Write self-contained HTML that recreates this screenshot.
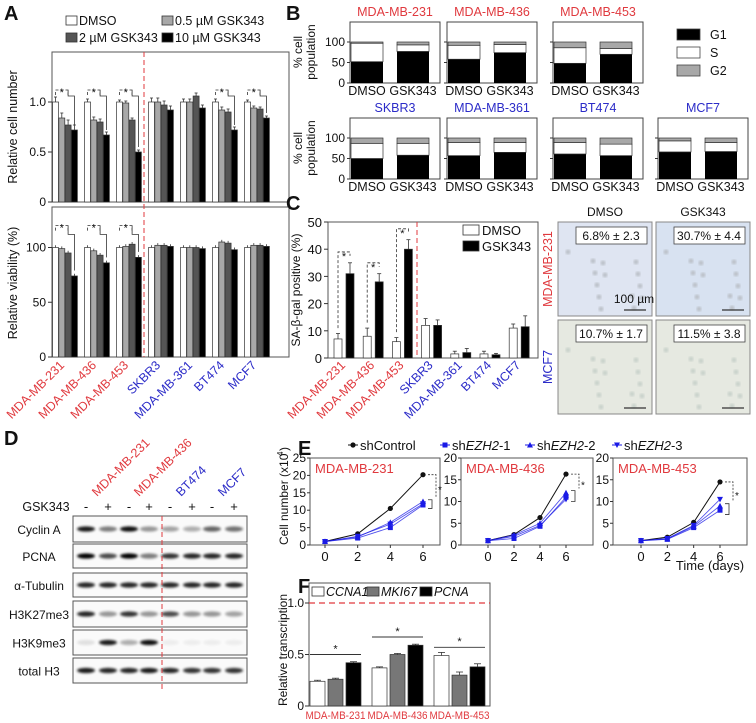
<!DOCTYPE html>
<html><head><meta charset="utf-8"><style>
html,body{margin:0;padding:0;background:#fff}
svg{display:block;font-family:"Liberation Sans",Arial,sans-serif}
</style></head><body>
<svg id="fig" width="756" height="723" viewBox="0 0 756 723" xmlns="http://www.w3.org/2000/svg">
<defs>
<filter id="blur" x="-50%" y="-200%" width="200%" height="500%"><feGaussianBlur stdDeviation="1.3"/></filter>
<filter id="blur2"><feGaussianBlur stdDeviation="1"/></filter>
</defs>
</svg>
<script>
// ---------- Panel A data ----------
const aLines = ['MDA-MB-231','MDA-MB-436','MDA-MB-453','SKBR3','MDA-MB-361','BT474','MCF7'];
const aSeries = ['DMSO','0.5 µM GSK343','2 µM GSK343','10 µM GSK343'];
const aCellDMSO = [1,1,1,1,1,1,1];
const aCell05 = [0.84,0.82,0.99,1.0,1.0,0.92,0.94];
const aCell2 = [0.77,0.80,0.82,0.97,1.06,0.90,0.93];
const aCell10 = [0.72,0.67,0.50,0.92,0.94,0.72,0.84];
const aCellErr = [0.05,0.03,0.02,0.04,0.03,0.03,0.02];
const aViaDMSO = [100,100,100,100,100,100,100];
const aVia05 = [99,97,101,102,100,105,102];
const aVia2 = [95,93,103,102,100,104,102];
const aVia10 = [74,86,91,101,99,98,101];
const aCellTicks = [0,0.5,1.0];
const aCellTickLabels = ['0','0.5','1.0'];
const aViaTicks = [0,50,100];
// ---------- Panel B data ----------
const bLines = ['MDA-MB-231','MDA-MB-436','MDA-MB-453','SKBR3','MDA-MB-361','BT474','MCF7'];
const bG1Dmso = [52,58,48,50,57,61,66];
const bSDmso = [45,34,38,37,32,28,27];
const bG1Gsk = [77,74,70,58,65,57,67];
const bSGsk = [16,20,14,29,24,28,22];
const bTicks = [0,50,100];
// ---------- Panel C data ----------
const cLines = ['MDA-MB-231','MDA-MB-436','MDA-MB-453','SKBR3','MDA-MB-361','BT474','MCF7'];
const cDmso = [7,8,6,12,1.5,1.5,11];
const cDmsoErr = [2,3,1.5,2.5,1,1,1.5];
const cGsk = [31,28,40,12,2,1.2,11.5];
const cGskErr = [4,3,3.5,2,1.5,0.5,4];
const cTicks = [0,10,20,30,40,50];
// ---------- Panel D data ----------
const dProteins = ['Cyclin A','PCNA','α-Tubulin','H3K27me3','H3K9me3','total H3'];
const dCyclinA = [0.9,0.5,0.95,0.4,0.35,0.3,0.6,0.55];
const dPCNA = [1,0.7,1,0.5,0.8,0.85,0.85,0.85];
const dTubulin = [0.85,0.85,0.85,0.85,0.85,0.85,0.85,0.85];
const dH3K27 = [0.85,0.4,0.8,0.4,0.7,0.4,0.4,0.35];
const dH3K9 = [0.1,0.9,0.3,0.95,0.05,0.05,0.05,0.05];
const dH3 = [0.9,0.85,0.85,0.9,0.85,0.8,0.8,0.8];
const dTreat = ['-','+','-','+','-','+','-','+'];
// ---------- Panel E data ----------
const eTimes = [0,2,4,6];
const eNames = ['MDA-MB-231','MDA-MB-436','MDA-MB-453'];
const eMax = [25,20,20];
const eCtrl = [[1,3.2,10.5,20.2],[1,2.4,6.3,16.3],[1,1.8,5.2,14.5]];
const eSh1 = [[1,2,5,11.5],[1,1.5,4.3,11],[1,1.3,4,8]];
const eSh2 = [[1,2.3,6.5,12.5],[1,2.3,5,12],[1,1.4,4.3,9]];
const eSh3 = [[1,2.5,6,11.8],[1,2,4.5,10.5],[1,1.5,4.5,10.5]];
// ---------- Panel F data ----------
const fLines = ['MDA-MB-231','MDA-MB-436','MDA-MB-453'];
const fCCNA1 = [0.24,0.37,0.49];
const fMKI67 = [0.26,0.50,0.30];
const fPCNA = [0.42,0.59,0.38];
const fErr = [0.01,0.01,0.03];
const fTicks = [0,0.5,1.0];
const fTickLabels = ['0','0.5','1.0'];

const NS='http://www.w3.org/2000/svg';
const svg=document.getElementById('fig');
const RED='#e0393e', BLUE='#2b2bc8';
function mk(tag,a,p){const e=document.createElementNS(NS,tag);for(const k in a)e.setAttribute(k,a[k]);(p||svg).appendChild(e);return e;}
function tx(s,x,y,a,p){const e=mk('text',Object.assign({x:x,y:y,'font-size':12,fill:'#111'},a||{}),p);e.textContent=s;return e;}
function ln(x1,y1,x2,y2,a){return mk('line',Object.assign({x1,y1,x2,y2,stroke:'#333','stroke-width':1},a||{}));}
function lineColor(i){return i<3?RED:BLUE;}

// ================= Panel A =================
let t=tx('A',4,20,{'font-size':20,'font-weight':'bold'});


const aFills=['#fff','#a8a8a8','#555','#000'];
const aLeg=[[66,25],[162,25],[66,42],[162,42]];
aSeries.forEach((s,i)=>{
  const g=mk('g',{});
  
  
  mk('rect',{x:aLeg[i][0],y:aLeg[i][1]-9,width:11,height:9,fill:aFills[i],stroke:'#333','stroke-width':0.8},g);
  tx(s,aLeg[i][0]+13,aLeg[i][1],{'font-size':12.5},g);
});
function xA(g,s){return 52.5+g*32+s*6.3;}
function yAc(v){return 202-v*100;}
function yAv(v){return 357-v*1.095;}
let b=mk('rect',{x:52,y:52,width:237,height:150,fill:'none',stroke:'#555','stroke-width':1});


b=mk('rect',{x:52,y:207,width:237,height:150,fill:'none',stroke:'#555','stroke-width':1});


aCellTicks.forEach((v,i)=>{ln(48,yAc(v),52,yAc(v));tx(aCellTickLabels[i],46,yAc(v)+4,{'text-anchor':'end'});});
aViaTicks.forEach(v=>{ln(48,yAv(v),52,yAv(v));tx(String(v),46,yAv(v)+4,{'text-anchor':'end'});});
t=tx('Relative cell number',17,127,{'text-anchor':'middle',transform:'rotate(-90 17 127)','font-size':12.5});


t=tx('Relative viability (%)',17,283,{'text-anchor':'middle',transform:'rotate(-90 17 283)','font-size':12.5});


const aCellS=[aCellDMSO,aCell05,aCell2,aCell10];
const aViaS=[aViaDMSO,aVia05,aVia2,aVia10];
aLines.forEach((name,g)=>{
  for(let s=0;s<4;s++){
    const v=aCellS[s][g];
    const r=mk('rect',{x:xA(g,s),y:yAc(v),width:6,height:yAc(0)-yAc(v),fill:aFills[s],stroke:'#333','stroke-width':0.7});
    
    
    ln(xA(g,s)+3,yAc(v),xA(g,s)+3,yAc(v+aCellErr[g]),{'stroke-width':0.8});
    ln(xA(g,s)+1.5,yAc(v+aCellErr[g]),xA(g,s)+4.5,yAc(v+aCellErr[g]),{'stroke-width':0.8});
    const w=aViaS[s][g];
    const r2=mk('rect',{x:xA(g,s),y:yAv(w),width:6,height:yAv(0)-yAv(w),fill:aFills[s],stroke:'#333','stroke-width':0.7});
    
    
    ln(xA(g,s)+3,yAv(w),xA(g,s)+3,yAv(w+2),{'stroke-width':0.8});
  }
  const cx=xA(g,2);
  const lab=tx(name,cx,366,{'text-anchor':'end',fill:lineColor(g),transform:'rotate(-45 '+cx+' 366)','font-size':12.5});
  
  
});
[0,1,2,5,6].forEach(g=>{
  const y0=yAc(1.12);
  mk('path',{d:`M${xA(g,0)+3} ${y0+5}V${y0}H${xA(g,2)+3}V${y0+5}`,fill:'none',stroke:'#333','stroke-width':0.8,'stroke-dasharray':'3 2'});
  tx('*',xA(g,1)+3,y0+6,{'font-size':11,'text-anchor':'middle'});
  mk('path',{d:`M${xA(g,2)+3} ${y0}V${yAc(1.06)}H${xA(g,3)+3}V${yAc(aCell10[g]+0.05)}`,fill:'none',stroke:'#333','stroke-width':0.8});
});
[0,1,2].forEach(g=>{
  const y0=yAv(120);
  mk('path',{d:`M${xA(g,0)+3} ${y0+5}V${y0}H${xA(g,2)+3}V${y0+5}`,fill:'none',stroke:'#333','stroke-width':0.8,'stroke-dasharray':'3 2'});
  tx('*',xA(g,1)+3,y0+6,{'font-size':11,'text-anchor':'middle'});
  mk('path',{d:`M${xA(g,2)+3} ${y0}V${yAv(112)}H${xA(g,3)+3}V${yAv(aVia10[g]+5)}`,fill:'none',stroke:'#333','stroke-width':0.8});
});
let dl=ln(144,52,144,357,{stroke:RED,'stroke-dasharray':'5 3','stroke-width':1});



// ================= Panel B =================
t=tx('B',286,20,{'font-size':20,'font-weight':'bold'});


const bBoxX=[350,447,553,350,447,553,658];
const bBase=[83,83,83,179,179,179,179];
bLines.forEach((name,i)=>{
  const x0=bBoxX[i], base=bBase[i];
  const yB=v=>base-v*0.41;
  const fr=mk('rect',{x:x0,y:base-61,width:90,height:61,fill:'none',stroke:'#444','stroke-width':1});
  
  
  const ti=tx(name,x0+45,base-67,{'text-anchor':'middle',fill:lineColor(i),'font-size':12.5});
  
  
  bTicks.forEach(v=>{ln(x0-3,yB(v),x0,yB(v));if(i===0||i===3)tx(String(v),x0-5,yB(v)+4,{'text-anchor':'end'});});
  [[bG1Dmso[i],bSDmso[i],1,'DMSO'],[bG1Gsk[i],bSGsk[i],47,'GSK343']].forEach(([g1,s,off,lbl])=>{
    const g2=100-g1-s;
    const r1=mk('rect',{x:x0+off,y:yB(g1),width:32,height:g1*0.41,fill:'#000'});
    
    
    const r2=mk('rect',{x:x0+off,y:yB(g1+s),width:32,height:s*0.41,fill:'#fff',stroke:'#333','stroke-width':0.7});
    
    
    const r3=mk('rect',{x:x0+off,y:yB(100),width:32,height:g2*0.41,fill:'#a8a8a8',stroke:'#333','stroke-width':0.7});
    
    
    tx(lbl,x0+off+16,base+12,{'text-anchor':'middle','font-size':12.5});
  });
});
tx('% cell',302,52,{'text-anchor':'middle',transform:'rotate(-90 302 52)','font-size':12});
tx('population',315,52,{'text-anchor':'middle',transform:'rotate(-90 315 52)','font-size':12});
tx('% cell',302,148,{'text-anchor':'middle',transform:'rotate(-90 302 148)','font-size':12});
tx('population',315,148,{'text-anchor':'middle',transform:'rotate(-90 315 148)','font-size':12});
[['G1','#000',38],['S','#fff',56],['G2','#a8a8a8',74]].forEach(([n,c,y])=>{
  const g=mk('g',{});
  
  
  mk('rect',{x:677,y:y-9,width:23,height:11,fill:c,stroke:'#444','stroke-width':0.8},g);
  tx(n,710,y+1,{'font-size':12.5},g);
});

// ================= Panel C =================
t=tx('C',286,210,{'font-size':20,'font-weight':'bold'});


function yC(v){return 358-v*2.72;}
function xC(g,s){return 334+g*29.2+s*12;}
b=mk('rect',{x:328,y:222,width:210,height:136,fill:'none',stroke:'#555','stroke-width':1});


cTicks.forEach(v=>{ln(324,yC(v),328,yC(v));tx(String(v),322,yC(v)+5,{'text-anchor':'end','font-size':13});});
t=tx('SA-β-gal positive (%)',300,290,{'text-anchor':'middle',transform:'rotate(-90 300 290)','font-size':12});


cLines.forEach((name,g)=>{
  [[cDmso,cDmsoErr,'#fff'],[cGsk,cGskErr,'#000']].forEach(([arr,err,c],s)=>{
    const v=arr[g];
    const r=mk('rect',{x:xC(g,s),y:yC(v),width:8,height:yC(0)-yC(v),fill:c,stroke:'#333','stroke-width':0.7});
    
    
    ln(xC(g,s)+4,yC(v),xC(g,s)+4,yC(v+err[g]),{'stroke-width':0.8});
    ln(xC(g,s)+2,yC(v+err[g]),xC(g,s)+6,yC(v+err[g]),{'stroke-width':0.8});
  });
  if(g<3){
    const y0=yC(cGsk[g]+cGskErr[g]+4);
    mk('path',{d:`M${xC(g,0)+4} ${yC(cDmso[g]+cDmsoErr[g]+2)}V${y0}H${xC(g,1)+4}V${y0+4}`,fill:'none',stroke:'#333','stroke-width':0.8,'stroke-dasharray':'3 2'});
    tx('*',xC(g,0)+10,y0+8,{'font-size':11,'text-anchor':'middle'});
  }
  const cx=xC(g,1);
  const lab=tx(name,cx,366,{'text-anchor':'end',fill:lineColor(g),transform:'rotate(-45 '+cx+' 366)','font-size':12.5});
  
  
});
dl=ln(417,222,417,358,{stroke:RED,'stroke-dasharray':'5 3'});


[['DMSO','#fff',235],['GSK343','#000',251]].forEach(([n,c,y])=>{
  const g=mk('g',{});
  
  
  mk('rect',{x:463,y:y-10,width:16,height:10,fill:c,stroke:'#333','stroke-width':0.8},g);
  tx(n,482,y,{'font-size':13},g);
});
const imgs=[[558,222,'#dfe5f2','6.8% ± 2.3'],[656,222,'#d8e2f1','30.7% ± 4.4'],[558,320,'#e6e9e1','10.7% ± 1.7'],[656,320,'#e6e9e1','11.5% ± 3.8']];
imgs.forEach(([x,y,c,l],i)=>{
  const g=mk('g',{});
  
  
  mk('rect',{x:x,y:y,width:94,height:94,fill:c,stroke:'#888','stroke-width':1},g);
  for(let k=0;k<14;k++){mk('circle',{cx:x+10+((k*37)%76),cy:y+30+((k*23)%58),r:2.5,fill:i<2?'#bcc1c9':'#c9d2cb',filter:'url(#blur2)'},g);}
  mk('rect',{x:x+18,y:y+5,width:71,height:17,fill:'#fff',stroke:'#444','stroke-width':0.8},g);
  tx(l,x+53,y+18,{'text-anchor':'middle','font-size':12},g);
  mk('line',{x1:x+66,y1:y+88,x2:x+88,y2:y+88,stroke:'#333','stroke-width':1.2},g);
});
t=tx('100 µm',634,303,{'text-anchor':'middle','font-size':12});


tx('DMSO',605,216,{'text-anchor':'middle','font-size':12});
tx('GSK343',703,216,{'text-anchor':'middle','font-size':12});
tx('MDA-MB-231',552,269,{'text-anchor':'middle',fill:RED,transform:'rotate(-90 552 269)','font-size':12.5});
tx('MCF7',552,367,{'text-anchor':'middle',fill:BLUE,transform:'rotate(-90 552 367)','font-size':12.5});

// ================= Panel D =================
t=tx('D',4,445,{'font-size':20,'font-weight':'bold'});


const dLaneX=[86,108,129,149,170,192,212,234];
const dRows=[[516,542,dCyclinA],[544,568,dPCNA],[573,597,dTubulin],[601,627,dH3K27],[630,655,dH3K9],[658,683,dH3]];
dRows.forEach(([y0,y1,vals],r)=>{
  const g=mk('g',{});
  
  
  mk('rect',{x:73,y:y0,width:174,height:y1-y0,fill:'#fafafa',stroke:'#555','stroke-width':1},g);
  vals.forEach((v,l)=>{
    const e=mk('ellipse',{cx:dLaneX[l],cy:(y0+y1)/2,rx:9,ry:2.6,fill:'#000',opacity:v,filter:'url(#blur)'},g);
    
    
  });
  tx(dProteins[r],39,(y0+y1)/2+5,{'text-anchor':'middle','font-size':12});
});
dTreat.forEach((s,l)=>tx(s,dLaneX[l],511,{'text-anchor':'middle','font-size':13}));
tx('GSK343',46,511,{'text-anchor':'middle','font-size':12.5});
[['MDA-MB-231',97,RED],['MDA-MB-436',139,RED],['BT474',181,BLUE],['MCF7',223,BLUE]].forEach(([n,x,c])=>{
  tx(n,x,497,{fill:c,transform:'rotate(-45 '+x+' 497)','font-size':12.5});
});
dl=ln(162,516,162,690,{stroke:RED,'stroke-dasharray':'5 3'});



// ================= Panel E =================
t=tx('E',298,455,{'font-size':20,'font-weight':'bold'});


const eFrameX=[[310,440],[461,593],[613,747]];
const eX0=[325,488,641], eX6=[423,566,720];
function xE(tv,p){return eX0[p]+tv*(eX6[p]-eX0[p])/6;}
function yE(v,p){return 545-v*87/eMax[p];}
const eSer=[[eCtrl,'#111','circle'],[eSh1,'#1a1ae6','square'],[eSh2,'#1a1ae6','tri'],[eSh3,'#1a1ae6','tridown']];
function marker(x,y,shape,c,p){
  if(shape==='circle')return mk('circle',{cx:x,cy:y,r:2.6,fill:c},p);
  if(shape==='square')return mk('rect',{x:x-2.5,y:y-2.5,width:5,height:5,fill:c},p);
  if(shape==='tri')return mk('path',{d:`M${x} ${y-3}L${x+3} ${y+2.5}L${x-3} ${y+2.5}Z`,fill:c},p);
  return mk('path',{d:`M${x} ${y+3}L${x+3} ${y-2.5}L${x-3} ${y-2.5}Z`,fill:c},p);
}
eNames.forEach((name,p)=>{
  const fr=mk('rect',{x:eFrameX[p][0],y:458,width:eFrameX[p][1]-eFrameX[p][0],height:87,fill:'none',stroke:'#555','stroke-width':1});
  
  
  for(let v=0;v<=eMax[p];v+=5){ln(eFrameX[p][0]-3,yE(v,p),eFrameX[p][0],yE(v,p));tx(String(v),eFrameX[p][0]-4,yE(v,p)+4,{'text-anchor':'end','font-size':12});}
  eTimes.forEach(tv=>{ln(xE(tv,p),545,xE(tv,p),548);tx(String(tv),xE(tv,p),561,{'text-anchor':'middle','font-size':13});});
  tx(name,eFrameX[p][0]+5,473,{fill:RED,'font-size':13});
  eSer.forEach(([arr,c,shape],s)=>{
    const pts=eTimes.map((tv,k)=>xE(tv,p)+','+yE(arr[p][k],p)).join(' ');
    const pl=mk('polyline',{points:pts,fill:'none',stroke:c,'stroke-width':s===0?1:0.9,opacity:s===0?1:0.75});
    
    
    eTimes.forEach((tv,k)=>{
      const m=marker(xE(tv,p),yE(arr[p][k],p),shape,c);
      
      
    });
  });
  const x6=xE(6,p)+5;
  mk('path',{d:`M${x6} ${yE(eCtrl[p][3],p)}H${x6+8}V${yE(eSh2[p][3]+1,p)}`,fill:'none',stroke:'#333','stroke-width':0.8,'stroke-dasharray':'2 1.5'});
  mk('path',{d:`M${x6} ${yE(eSh1[p][3]+1.5,p)}H${x6+4}V${yE(eSh1[p][3]-1,p)}H${x6}`,fill:'none',stroke:'#333','stroke-width':0.8});
  tx('*',x6+10,yE((eCtrl[p][3]+eSh2[p][3])/2,p)+5,{'font-size':10});
});
t=tx('Cell number (x10',288,545,{'font-size':12,transform:'rotate(-90 288 545)'});


tx('4',283,456,{'font-size':8,transform:'rotate(-90 283 456)'});
tx(')',288,451,{'font-size':12,transform:'rotate(-90 288 451)'});
t=tx('Time (days)',710,570,{'text-anchor':'middle','font-size':13});


[['shControl','#111','circle',360],['shEZH2-1','#1a1ae6','square',452],['shEZH2-2','#1a1ae6','tri',537],['shEZH2-3','#1a1ae6','tridown',624]].forEach(([n,c,sh,x])=>{
  const g=mk('g',{});
  
  
  mk('line',{x1:x-12,y1:445,x2:x-2,y2:445,stroke:c,'stroke-width':1},g);
  marker(x-7,445,sh,c,g);
  const te=mk('text',{x:x,y:450,'font-size':13,fill:'#111'},g);
  if(n==='shControl'){te.textContent=n;}
  else{te.textContent='sh';const ts=mk('tspan',{'font-style':'italic'},te);ts.textContent='EZH2';const ts2=mk('tspan',{},te);ts2.textContent=n.slice(6);}
});

// ================= Panel F =================
t=tx('F',298,593,{'font-size':20,'font-weight':'bold'});


function yF(v){return 706-v*103;}
function xF(g,s){return 310+g*62+s*18;}
b=mk('rect',{x:309,y:583,width:181,height:123,fill:'none',stroke:'#555','stroke-width':1});


fTicks.forEach((v,i)=>{ln(305,yF(v),309,yF(v));tx(fTickLabels[i],304,yF(v)+4,{'text-anchor':'end','font-size':12});});
t=tx('Relative transcription',287,650,{'text-anchor':'middle',transform:'rotate(-90 287 650)','font-size':12});


dl=ln(309,yF(1),490,yF(1),{stroke:RED,'stroke-dasharray':'6 4','stroke-width':1.2});


const fS=[[fCCNA1,'#fff'],[fMKI67,'#777'],[fPCNA,'#000']];
fLines.forEach((name,g)=>{
  fS.forEach(([arr,c],s)=>{
    const v=arr[g];
    const r=mk('rect',{x:xF(g,s),y:yF(v),width:15,height:yF(0)-yF(v),fill:c,stroke:'#333','stroke-width':0.7});
    
    
    ln(xF(g,s)+7.5,yF(v),xF(g,s)+7.5,yF(v+fErr[g]),{'stroke-width':0.8});
    ln(xF(g,s)+4,yF(v+fErr[g]),xF(g,s)+11,yF(v+fErr[g]),{'stroke-width':0.8});
  });
  const top=Math.max(fCCNA1[g],fMKI67[g],fPCNA[g]);
  ln(xF(g,0),yF(top+0.08),xF(g,2)+15,yF(top+0.08),{'stroke-width':0.9});
  tx('*',xF(g,1)+7.5,yF(top+0.1),{'text-anchor':'middle','font-size':11});
  const lab=tx(name,xF(g,1)+7.5,719,{'text-anchor':'middle',fill:RED,'font-size':11,textLength:60,lengthAdjust:'spacingAndGlyphs'});
  
  
});
[['CCNA1','#fff',312],['MKI67','#777',367],['PCNA','#000',420]].forEach(([n,c,x])=>{
  const g=mk('g',{});
  
  
  mk('rect',{x:x,y:587,width:12,height:9,fill:c,stroke:'#333','stroke-width':0.8},g);
  tx(n,x+14,596,{'font-size':12.5,'font-style':'italic'},g);
});
</script>
</body></html>
